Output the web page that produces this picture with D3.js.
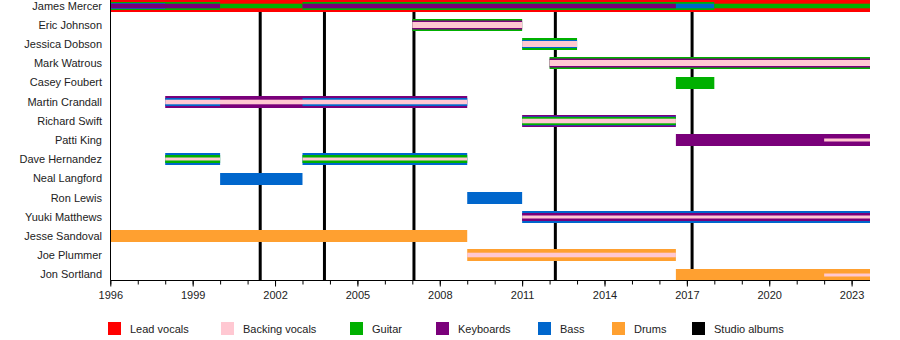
<!DOCTYPE html>
<html><head><meta charset="utf-8">
<script src="https://cdn.jsdelivr.net/npm/d3@7"></script>
<style>body{margin:0;background:#fff}svg{display:block}text{font-family:"Liberation Sans",Arial,sans-serif;font-size:11px;fill:#222}</style>
</head><body>
<script>
// ---------- data ----------
const members = ["James Mercer","Eric Johnson","Jessica Dobson","Mark Watrous","Casey Foubert","Martin Crandall","Richard Swift","Patti King","Dave Hernandez","Neal Langford","Ron Lewis","Yuuki Matthews","Jesse Sandoval","Joe Plummer","Jon Sortland"];
const roles = ["Lead vocals","Backing vocals","Guitar","Keyboards","Bass","Drums","Studio albums"];
const roleColors = ["#ff0000","#ffc8d2","#00b000","#7a007a","#0066cc","#ffa030","#000000"];
const albums = [2001.46, 2003.80, 2007.06, 2012.21, 2017.19];
const tickYears = [1996,1999,2002,2005,2008,2011,2014,2017,2020,2023];
const period = [1996, 2023.67];
// segments: [member, role, from, till, layer]  (layer 0 = full bar, higher = narrower stripe)
const segments = [
  ["James Mercer","Lead vocals",1996,2023.67,0],
  ["James Mercer","Guitar",1996,2000,2],
  ["James Mercer","Bass",1996,1998,3],
  ["James Mercer","Keyboards",1996,2000,4],
  ["James Mercer","Guitar",2000,2003,4],
  ["James Mercer","Guitar",2003,2018,2],
  ["James Mercer","Keyboards",2003,2016.6,4],
  ["James Mercer","Bass",2016.6,2018,4],
  ["James Mercer","Guitar",2018,2023.67,4],
  ["Eric Johnson","Guitar",2007,2011,0],
  ["Eric Johnson","Keyboards",2007,2011,1],
  ["Eric Johnson","Backing vocals",2007,2011,3],
  ["Jessica Dobson","Guitar",2011,2013,0],
  ["Jessica Dobson","Bass",2011,2013,2],
  ["Jessica Dobson","Backing vocals",2011,2013,3],
  ["Mark Watrous","Guitar",2012,2023.67,0],
  ["Mark Watrous","Keyboards",2012,2023.67,1],
  ["Mark Watrous","Backing vocals",2012,2023.67,3],
  ["Casey Foubert","Guitar",2016.6,2018,0],
  ["Martin Crandall","Keyboards",1998,2009,0],
  ["Martin Crandall","Bass",1998,2000,2],
  ["Martin Crandall","Bass",2003,2009,2],
  ["Martin Crandall","Backing vocals",1998,2009,4],
  ["Richard Swift","Keyboards",2011,2016.6,0],
  ["Richard Swift","Bass",2011,2016.6,1],
  ["Richard Swift","Guitar",2011,2016.6,2],
  ["Richard Swift","Backing vocals",2011,2016.6,4],
  ["Patti King","Keyboards",2016.6,2023.67,0],
  ["Patti King","Backing vocals",2022,2023.67,5],
  ["Dave Hernandez","Bass",1998,2000,0],
  ["Dave Hernandez","Guitar",1998,2000,2],
  ["Dave Hernandez","Backing vocals",1998,2000,5],
  ["Dave Hernandez","Bass",2003,2009,0],
  ["Dave Hernandez","Guitar",2003,2009,2],
  ["Dave Hernandez","Backing vocals",2003,2009,5],
  ["Neal Langford","Bass",2000,2003,0],
  ["Ron Lewis","Bass",2009,2011,0],
  ["Yuuki Matthews","Bass",2011,2023.67,0],
  ["Yuuki Matthews","Keyboards",2011,2023.67,2],
  ["Yuuki Matthews","Backing vocals",2011,2023.67,5],
  ["Jesse Sandoval","Drums",1996,2009,0],
  ["Joe Plummer","Drums",2009,2016.6,0],
  ["Joe Plummer","Backing vocals",2009,2016.6,4],
  ["Jon Sortland","Drums",2016.6,2023.67,0],
  ["Jon Sortland","Backing vocals",2022,2023.67,5]
];

// ---------- layout ----------
const W = 900, H = 340;
const layerH = [12, 9, 8, 6, 4.6, 3];
const legendX = [108, 221, 350, 436, 538, 612, 692];

const svg = d3.select("body").append("svg").attr("width", W).attr("height", H);
const x = d3.scaleLinear().domain(period).range([110.3, 870]);
const y = d3.scalePoint().domain(members).range([5.9, 274.5]);
const color = d3.scaleOrdinal().domain(roles).range(roleColors);
const cy = m => Math.round(y(m));

// album lines (behind bars)
svg.append("g").selectAll("line").data(albums).join("line")
  .attr("x1", d => x(d)).attr("x2", d => x(d))
  .attr("y1", 0).attr("y2", 280)
  .attr("stroke", color("Studio albums")).attr("stroke-width", 3);

// bars
svg.append("g").selectAll("rect").data(segments).join("rect")
  .attr("x", d => x(d[2]))
  .attr("width", d => x(d[3]) - x(d[2]))
  .attr("y", d => cy(d[0]) - layerH[d[4]] / 2)
  .attr("height", d => layerH[d[4]])
  .attr("fill", d => color(d[1]));

// member names
svg.append("g").selectAll("text").data(members).join("text")
  .attr("x", 102).attr("y", d => y(d)).attr("dy", "0.35em")
  .attr("text-anchor", "end").text(d => d);

// left border
svg.append("line").attr("x1", 110.5).attr("x2", 110.5).attr("y1", 0).attr("y2", 280)
  .attr("stroke", "#000").attr("stroke-width", 1);

// x axis
const ax = svg.append("g").attr("transform", "translate(0,280.5)");
ax.call(d3.axisBottom(x).tickValues(d3.range(1996, 2024)).tickSize(4).tickFormat(""));
ax.call(g => g.select(".domain").attr("d", `M${x(period[0])},0H${x(period[1])}`));
const ax2 = svg.append("g").attr("transform", "translate(0,280.5)");
ax2.call(d3.axisBottom(x).tickValues(tickYears).tickSize(6).tickPadding(5).tickFormat(d3.format("d")));
ax2.select(".domain").remove();
svg.selectAll(".tick text").attr("font-size", 11).attr("font-family", '"Liberation Sans",Arial,sans-serif').attr("fill", "#222");

// legend
const lg = svg.append("g").selectAll("g").data(roles).join("g")
  .attr("transform", (d, i) => `translate(${legendX[i]},322)`);
lg.append("rect").attr("width", 13).attr("height", 13).attr("fill", d => color(d));
lg.append("text").attr("x", 22).attr("y", 11).text(d => d);
</script>
</body></html>
